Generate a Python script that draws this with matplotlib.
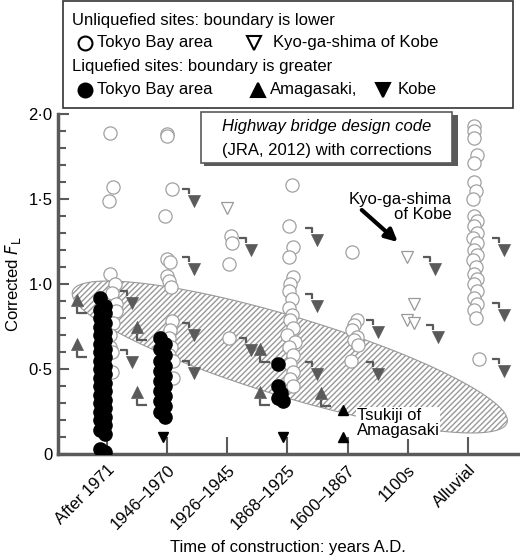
import numpy as np
import matplotlib
matplotlib.use("Agg")
import matplotlib.pyplot as plt
from matplotlib.path import Path
from matplotlib.lines import Line2D
from matplotlib.patches import Rectangle, Polygon
from matplotlib.ticker import MultipleLocator, FuncFormatter

plt.rcParams['font.family'] = ['Liberation Sans', 'DejaVu Sans']
plt.rcParams['hatch.color'] = '#999999'

categories = ["After 1971", "1946–1970", "1926–1945", "1868–1925", "1600–1867", "1100s", "Alluvial"]

# Liquefied Tokyo Bay (solid circles): (x, y)
liq_tokyo_x = [-0.12]*17 + [-0.03]*17 + [-0.12]*8 + [-0.03]*8 + [2.85, 2.85, 2.9, 2.85, 2.92]
liq_tokyo_y = [0.92, 0.85, 0.80, 0.75, 0.70, 0.65, 0.60, 0.55, 0.50, 0.45, 0.40, 0.35, 0.30, 0.25, 0.20, 0.14, 0.03,
               0.87, 0.83, 0.77, 0.72, 0.67, 0.62, 0.57, 0.52, 0.47, 0.42, 0.37, 0.32, 0.27, 0.22, 0.17, 0.12, 0.01,
               0.68, 0.62, 0.55, 0.49, 0.43, 0.37, 0.31, 0.25,
               0.65, 0.58, 0.52, 0.46, 0.40, 0.34, 0.28, 0.22,
               0.53, 0.40, 0.36, 0.33, 0.31]
liq_tokyo_x = [c + (1 if i >= 34 and i < 50 else 0) for i, c in enumerate(liq_tokyo_x)]

# Unliquefied Tokyo Bay (open circles)
unl_tokyo_x = ([0.05]*13 + [1.0]*16 + [2.03]*4 + [3.05]*20 + [4.02]*8 + [6.1]*27)
unl_tokyo_y = ([1.89, 1.57, 1.49, 1.06, 1.00, 0.95, 0.88, 0.84, 0.77, 0.70, 0.63, 0.60, 0.48,
                1.88, 1.87, 1.56, 1.40, 1.15, 1.13, 1.05, 1.02, 0.98, 0.78, 0.73, 0.68, 0.63, 0.58, 0.55, 0.45,
                1.28, 1.24, 1.12, 0.68,
                1.58, 1.34, 1.22, 1.16, 1.04, 1.00, 0.96, 0.91, 0.86, 0.82, 0.79, 0.74, 0.70, 0.66, 0.63, 0.58, 0.53, 0.48, 0.44, 0.40,
                1.19, 0.79, 0.76, 0.73, 0.69, 0.67, 0.64, 0.55,
                1.93, 1.90, 1.86, 1.76, 1.71, 1.60, 1.55, 1.50, 1.40, 1.37, 1.34, 1.30, 1.27, 1.24, 1.20, 1.17,
                1.14, 1.10, 1.06, 1.03, 1.00, 0.96, 0.92, 0.88, 0.85, 0.80, 0.56])
unl_tokyo_jit = [0.0, 0.05, -0.02, 0.0, 0.08, 0.03, 0.1, 0.1, 0.06, 0.0, 0.0, 0.03, 0.03,
                 0.0, 0.0, 0.08, -0.03, 0.0, 0.05, 0.0, 0.03, 0.06, 0.08, 0.05, 0.03, 0.06, 0.03, 0.1, 0.1,
                 0.03, 0.05, 0.0, 0.0,
                 0.03, -0.03, 0.05, -0.03, 0.05, 0.0, -0.03, 0.03, -0.03, 0.03, 0.0, 0.05, -0.05, 0.08, -0.03, 0.05, 0.0, 0.05, 0.0, 0.05,
                 0.05, 0.13, 0.08, 0.05, 0.13, 0.08, 0.15, 0.03,
                 0.0, 0.0, 0.0, 0.05, 0.0, 0.0, 0.03, -0.02, 0.0, 0.05, 0.0, 0.05, -0.02, 0.05, 0.0, 0.05,
                 -0.02, 0.03, 0.0, 0.05, 0.0, 0.05, 0.0, 0.05, 0.0, 0.03, 0.08]

# Unliquefied Kyo-ga-shima of Kobe (open down triangles)
unl_kobe_x = [2.0, 4.98, 5.1, 4.98, 5.1]
unl_kobe_y = [1.45, 1.16, 0.88, 0.79, 0.77]

# Gray flags: Kobe (down) and Amagasaki (up)
flag_down_x = [0.22, 0.22, 1.25, 1.25, 1.25, 1.25, 2.2, 2.2, 3.3, 3.3, 3.3, 4.3, 4.3, 5.25, 5.3, 6.4, 6.4, 6.4]
flag_down_y = [0.96, 0.61, 1.56, 1.16, 0.77, 0.55, 1.27, 0.68, 1.33, 0.94, 0.54, 0.79, 0.54, 1.16, 0.76, 1.27, 0.89, 0.56]
flag_up_x = [-0.5, -0.5, 0.5, 0.5, 2.55, 2.55, 3.55]
flag_up_y = [0.83, 0.57, 0.67, 0.29, 0.54, 0.29, 0.28]

# Small black triangles (Kobe liquefied, Amagasaki liquefied)
kobe_liq_x = [0.93, 2.92]
kobe_liq_y = [0.10, 0.10]
amag_liq_x = [3.92, 3.92]
amag_liq_y = [0.26, 0.10]

W, H = 520, 557
fig = plt.figure(figsize=(5.2, 5.57), dpi=100)
ax = fig.add_axes([58/W, 1-454/H, (518-58)/W, (454-114)/H])
ax.set_xlim(-0.81, 6.83)
ax.set_ylim(0, 2.0)
SX = (518-58)/(6.83+0.81)
SY = (454-114)/2.0

GRAY = '#5a5a5a'
# ellipse
cx, cy = (290-107)/SX, (454-357)/SY
a, b, th = 227, 40, np.deg2rad(-16.8)
t = np.linspace(0, 2*np.pi, 200)
u, v = a*np.cos(t), b*np.sin(t)
ex = cx + (u*np.cos(th) - v*np.sin(th))/SX
ey = cy + (u*np.sin(th) + v*np.cos(th))/SY
ax.add_patch(Polygon(np.column_stack([ex, ey]), closed=True, facecolor='white',
                     edgecolor='#999999', hatch='//////', lw=0.8, zorder=1))

ax.plot(liq_tokyo_x, liq_tokyo_y, 'o', ms=9.5, mfc='black', mec='black', zorder=4)
ax.plot(np.array(unl_tokyo_x)+np.array(unl_tokyo_jit), unl_tokyo_y, 'o', ms=9.5, mfc='white', mec='#a0a0a0', mew=0.9, zorder=3)
ax.plot(unl_kobe_x, unl_kobe_y, 'v', ms=8, mfc='white', mec='#999999', mew=0.9, zorder=3)

P = 0.72
hook_d = Path([(0, 0), (7, 0), (7, -5)])
tri_d = Path([(6, -6), (18, -6), (12, -18), (6, -6)], [1, 2, 2, 79])
hook_u = Path([(0, 6), (0, 0), (10, 0)])
tri_u = Path([(-6, 7), (6, 7), (0, 19), (-6, 7)], [1, 2, 2, 79])
ax.plot(flag_down_x, flag_down_y, ls='none', marker=hook_d, ms=14*P, mfc='none', mec=GRAY, mew=1.6, zorder=5)
ax.plot(flag_down_x, flag_down_y, ls='none', marker=tri_d, ms=36*P, mfc=GRAY, mec=GRAY, mew=0.5, zorder=5)
ax.plot(flag_up_x, flag_up_y, ls='none', marker=hook_u, ms=20*P, mfc='none', mec=GRAY, mew=1.6, zorder=5)
ax.plot(flag_up_x, flag_up_y, ls='none', marker=tri_u, ms=38*P, mfc=GRAY, mec=GRAY, mew=0.5, zorder=5)
ax.plot(kobe_liq_x, kobe_liq_y, 'v', ms=7, color='black', zorder=5)
ax.plot(amag_liq_x, amag_liq_y, '^', ms=7, color='black', zorder=5)

for s in ['top', 'right']:
    ax.spines[s].set_visible(False)
for s in ['left', 'bottom']:
    ax.spines[s].set_color(GRAY)
    ax.spines[s].set_linewidth(2.5)
FS = 12
ax.set_xticks(range(7))
ax.set_xticklabels(categories, rotation=45, ha='right', rotation_mode='anchor', fontsize=FS)
ax.yaxis.set_major_locator(MultipleLocator(0.5))
ax.yaxis.set_minor_locator(MultipleLocator(0.1))
ax.yaxis.set_major_formatter(FuncFormatter(lambda v, p: '0' if v == 0 else f'{v:.1f}'.replace('.', '·')))
ax.tick_params(axis='y', which='major', direction='in', length=8, width=1.5, color=GRAY, labelsize=FS, pad=4)
ax.tick_params(axis='y', which='minor', direction='in', length=6, width=1.5, color=GRAY)
ax.tick_params(axis='x', direction='in', length=12, width=1.5, color=GRAY, labelsize=FS, pad=6)
ax.set_ylabel('Corrected $F_\\mathrm{L}$', fontsize=FS, labelpad=4)
ax.set_xlabel('Time of construction: years A.D.', fontsize=FS, labelpad=6)

# annotations
ax.text((452-107)/SX, (454-207)/SY, 'Kyo-ga-shima\nof Kobe', ha='right', va='center', fontsize=FS, linespacing=1.05, zorder=6)
ax.annotate('', xy=((398-107)/SX, (454-242)/SY), xytext=((362-107)/SX, (454-210)/SY),
            arrowprops=dict(arrowstyle='-|>', lw=3, color='black', mutation_scale=18, shrinkA=0, shrinkB=0), zorder=6)
ax.text((357-107)/SX, (454-423)/SY, 'Tsukiji of\nAmagasaki', ha='left', va='center', fontsize=FS, linespacing=1.05,
        zorder=6, bbox=dict(facecolor='white', edgecolor='none', pad=0.5))

def fx(px): return px/W
def fy(py): return 1-py/H

# code box with shadow
fig.patches.append(Rectangle((fx(204), fy(166)), (455-201)/W, (166-115)/H, transform=fig.transFigure,
                             facecolor=GRAY, edgecolor='none', zorder=7))
fig.patches.append(Rectangle((fx(201), fy(163)), (452-201)/W, (163-112)/H, transform=fig.transFigure,
                             facecolor='white', edgecolor=GRAY, lw=1.2, zorder=8))
fig.text(fx(327), fy(126), 'Highway bridge design code', style='italic', ha='center', va='center', fontsize=FS, zorder=9)
fig.text(fx(327), fy(150), '(JRA, 2012) with corrections', ha='center', va='center', fontsize=FS, zorder=9)

# legend box
fig.patches.append(Rectangle((fx(63), fy(108)), (513-63)/W, 108/H - 0.001, transform=fig.transFigure,
                             facecolor='white', edgecolor='#333333', lw=1.2, zorder=7))
fig.text(fx(72), fy(21), 'Unliquefied sites: boundary is lower', va='center', fontsize=FS, zorder=9)
fig.text(fx(97), fy(43), 'Tokyo Bay area', va='center', fontsize=FS, zorder=9)
fig.text(fx(273), fy(43), 'Kyo-ga-shima of Kobe', va='center', fontsize=FS, zorder=9)
fig.text(fx(72), fy(66), 'Liquefied sites: boundary is greater', va='center', fontsize=FS, zorder=9)
fig.text(fx(97), fy(90), 'Tokyo Bay area', va='center', fontsize=FS, zorder=9)
fig.text(fx(270), fy(90), 'Amagasaki,', va='center', fontsize=FS, zorder=9)
fig.text(fx(398), fy(90), 'Kobe', va='center', fontsize=FS, zorder=9)
for (px, py, m, fc) in [(85, 43, 'o', 'white'), (254, 43, 'v', 'white'), (85, 90, 'o', 'black'),
                        (258, 90, '^', 'black'), (383, 90, 'v', 'black')]:
    fig.add_artist(Line2D([fx(px)], [fy(py)], transform=fig.transFigure, marker=m, ms=10,
                          mfc=fc, mec='black', mew=1.5, ls='none', zorder=9))

fig.savefig('out.png', dpi=100)
